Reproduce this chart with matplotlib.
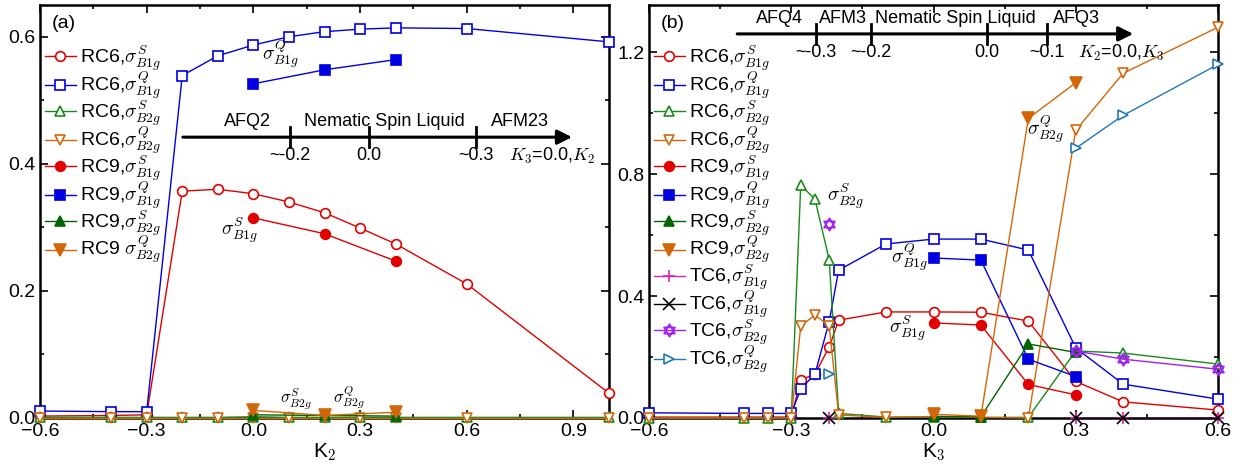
import numpy as np
import matplotlib
matplotlib.use('Agg')
import matplotlib.pyplot as plt
from matplotlib.path import Path
from matplotlib.ticker import MultipleLocator

plt.rcParams['font.family'] = ['Liberation Sans', 'DejaVu Sans']
plt.rcParams['mathtext.fontset'] = 'cm'
plt.rcParams['font.size'] = 13

# ---- panel (a): K3 = 0, scan K2 ----
k2_rc6 = [-0.6, -0.4, -0.3, -0.2, -0.1, 0.0, 0.1, 0.2, 0.3, 0.4, 0.6, 1.0]
a_rc6_b1g_s = [0.003, 0.004, 0.005, 0.357, 0.360, 0.353, 0.340, 0.323, 0.299, 0.274, 0.211, 0.039]
a_rc6_b1g_q = [0.011, 0.010, 0.010, 0.539, 0.570, 0.587, 0.600, 0.608, 0.612, 0.614, 0.613, 0.592]
a_rc6_b2g_s = [0.001, 0.001, 0.001, 0.001, 0.001, 0.002, 0.001, 0.001, 0.001, 0.001, 0.001, 0.001]
a_rc6_b2g_q = [0.000, 0.000, 0.000, 0.000, 0.000, 0.000, 0.000, 0.000, 0.000, 0.000, 0.000, 0.000]
k2_rc9 = [0.0, 0.2, 0.4]
a_rc9_b1g_s = [0.315, 0.290, 0.247]
a_rc9_b1g_q = [0.526, 0.548, 0.564]
a_rc9_b2g_s = [0.005, 0.004, 0.003]
a_rc9_b2g_q = [0.012, 0.004, 0.009]

# ---- panel (b): K2 = 0, scan K3 ----
k3_rc6 = [-0.6, -0.4, -0.35, -0.3, -0.28, -0.25, -0.22, -0.2, -0.1, 0.0, 0.1, 0.2, 0.3, 0.4, 0.6]
b_rc6_b1g_s = [0.003, 0.003, 0.003, 0.003, 0.125, 0.144, 0.233, 0.321, 0.348, 0.348, 0.347, 0.318, 0.120, 0.053, 0.026]
b_rc6_b1g_q = [0.017, 0.015, 0.015, 0.015, 0.095, 0.144, 0.316, 0.485, 0.571, 0.587, 0.587, 0.551, 0.230, 0.111, 0.062]
b_rc6_b2g_s = [0.0, 0.0, 0.0, 0.0, 0.764, 0.718, 0.520, 0.015, 0.003, 0.003, 0.002, 0.002, 0.220, 0.213, 0.177]
b_rc6_b2g_q = [0.0, 0.0, 0.0, 0.0, 0.302, 0.338, 0.302, 0.010, 0.002, 0.005, 0.002, 0.0, 0.944, 1.131, 1.282]
k3_rc9 = [0.0, 0.1, 0.2, 0.3]
b_rc9_b1g_s = [0.312, 0.305, 0.110, 0.076]
b_rc9_b1g_q = [0.525, 0.518, 0.193, 0.136]
b_rc9_b2g_s = [0.005, 0.004, 0.243, 0.215]
b_rc9_b2g_q = [0.012, 0.006, 0.983, 1.100]
k3_tc6 = [-0.22, 0.3, 0.4, 0.6]
b_tc6_b1g_s = [0.0, 0.0, 0.0, 0.0]
b_tc6_b1g_q = [0.0, 0.0, 0.0, 0.0]
b_tc6_b2g_s = [0.636, 0.220, 0.193, 0.160]
b_tc6_b2g_q = [0.144, 0.885, 0.993, 1.160]

RED = '#e00000'
BLUE = '#0000e0'
GREEN = '#1a8a1a'
DGREEN = '#006400'
ORANGE = '#d2670a'
MAGENTA = '#e020b0'
PURPLE = '#a020f0'
TEAL = '#1f78b4'

# star of david marker
up = Path([(0, 1), (-0.866, -0.5), (0.866, -0.5), (0, 1)], closed=True)
dn = Path([(0, -1), (-0.866, 0.5), (0.866, 0.5), (0, -1)], closed=True)
hexagram = Path.make_compound_path(up, dn)

S_B1G = r'$\sigma^{S}_{B1g}$'
Q_B1G = r'$\sigma^{Q}_{B1g}$'
S_B2G = r'$\sigma^{S}_{B2g}$'
Q_B2G = r'$\sigma^{Q}_{B2g}$'


def draw(ax, x, y, color, marker, label, filled=False, ms=7, line_from=0):
    kw = dict(color=color, marker=marker, ms=ms, lw=1.0, mew=1.2, clip_on=False, zorder=3)
    if not filled:
        kw['mfc'] = 'white' if marker not in ('+', 'x') else color
    if line_from:
        ax.plot(x[:line_from], y[:line_from], ls='none', **kw)
    ax.plot(x[line_from:], y[line_from:], label=label, **kw)


def style_axes(ax):
    ax.tick_params(which='both', direction='in', top=True, right=True, width=1.2)
    ax.tick_params(which='major', length=6, labelsize=14)
    ax.tick_params(which='minor', length=3)
    for s in ax.spines.values():
        s.set_linewidth(1.8)


def phase_bar(ax, x0, x1, y, ticks, tick_labels, regions, region_x, axis_label, axis_label_x):
    ax.annotate('', xy=(x1, y), xytext=(x0, y), xycoords='axes fraction',
                arrowprops=dict(arrowstyle='-|>', lw=2.2, color='k', mutation_scale=22,
                                shrinkA=0, shrinkB=0))
    for t, lab in zip(ticks, tick_labels):
        ax.plot([t, t], [y - 0.025, y + 0.025], color='k', lw=2, transform=ax.transAxes)
        ax.text(t, y - 0.045, lab, transform=ax.transAxes, ha='center', va='center', fontsize=13)
    for r, rx in zip(regions, region_x):
        ax.text(rx, y + 0.037, r, transform=ax.transAxes, ha='center', va='center', fontsize=13)
    ax.text(axis_label_x, y - 0.045, axis_label, transform=ax.transAxes, ha='center',
            va='center', fontsize=13)


fig = plt.figure(figsize=(12.42, 4.68), dpi=100)
ax_a = fig.add_axes([40 / 1242, 50 / 468, 569 / 1242, 413 / 468])
ax_b = fig.add_axes([649 / 1242, 50 / 468, 569 / 1242, 413 / 468])

legend_kw = dict(loc='upper left', bbox_to_anchor=(-0.005, 0.925), frameon=False, fontsize=14,
                 handlelength=1.6, handletextpad=0.2, labelspacing=-0.17, borderaxespad=0)

# panel (a)
draw(ax_a, k2_rc6, a_rc6_b1g_s, RED, 'o', 'RC6,' + S_B1G)
draw(ax_a, k2_rc6, a_rc6_b1g_q, BLUE, 's', 'RC6,' + Q_B1G)
draw(ax_a, k2_rc6, a_rc6_b2g_s, GREEN, '^', 'RC6,' + S_B2G)
draw(ax_a, k2_rc6, a_rc6_b2g_q, ORANGE, 'v', 'RC6,' + Q_B2G)
draw(ax_a, k2_rc9, a_rc9_b1g_s, RED, 'o', 'RC9,' + S_B1G, filled=True)
draw(ax_a, k2_rc9, a_rc9_b1g_q, BLUE, 's', 'RC9,' + Q_B1G, filled=True)
draw(ax_a, k2_rc9, a_rc9_b2g_s, DGREEN, '^', 'RC9,' + S_B2G, filled=True)
draw(ax_a, k2_rc9, a_rc9_b2g_q, ORANGE, 'v', 'RC9 ' + Q_B2G, filled=True, ms=9)

ax_a.set_xlim(-0.6, 1.0)
ax_a.set_ylim(0, 0.65)
ax_a.xaxis.set_major_locator(MultipleLocator(0.3))
ax_a.xaxis.set_minor_locator(MultipleLocator(0.15))
ax_a.yaxis.set_major_locator(MultipleLocator(0.2))
ax_a.yaxis.set_minor_locator(MultipleLocator(0.1))
ax_a.set_xlabel('K$_\\mathsf{2}$', fontsize=15, labelpad=1)
style_axes(ax_a)
ax_a.text(0.02, 0.955, '(a)', transform=ax_a.transAxes, fontsize=14, va='center')
ax_a.legend(**legend_kw)
ax_a.text(0.077, 0.572, Q_B1G, fontsize=14, ha='center', va='center')
ax_a.text(-0.04, 0.296, S_B1G, fontsize=14, ha='center', va='center')
ax_a.text(0.12, 0.03, S_B2G, fontsize=12, ha='center', va='center')
ax_a.text(0.27, 0.032, Q_B2G, fontsize=12, ha='center', va='center')
phase_bar(ax_a, 0.251, 0.935, 0.680, [0.439, 0.578, 0.766], ['~-0.2', '0.0', '~0.3'],
          ['AFQ2', 'Nematic Spin Liquid', 'AFM23'], [0.364, 0.605, 0.844],
          r'$K_3$=0.0,$K_2$', 0.90)

# panel (b)
draw(ax_b, k3_rc6, b_rc6_b1g_s, RED, 'o', 'RC6,' + S_B1G)
draw(ax_b, k3_rc6, b_rc6_b1g_q, BLUE, 's', 'RC6,' + Q_B1G)
draw(ax_b, k3_rc6, b_rc6_b2g_s, GREEN, '^', 'RC6,' + S_B2G)
draw(ax_b, k3_rc6, b_rc6_b2g_q, ORANGE, 'v', 'RC6,' + Q_B2G)
draw(ax_b, k3_rc9, b_rc9_b1g_s, RED, 'o', 'RC9,' + S_B1G, filled=True)
draw(ax_b, k3_rc9, b_rc9_b1g_q, BLUE, 's', 'RC9,' + Q_B1G, filled=True)
draw(ax_b, k3_rc9, b_rc9_b2g_s, DGREEN, '^', 'RC9,' + S_B2G, filled=True)
draw(ax_b, k3_rc9, b_rc9_b2g_q, ORANGE, 'v', 'RC9,' + Q_B2G, filled=True, ms=9)
draw(ax_b, k3_tc6, b_tc6_b1g_s, MAGENTA, '+', 'TC6,' + S_B1G, ms=9, line_from=1)
draw(ax_b, k3_tc6, b_tc6_b1g_q, 'black', 'x', 'TC6,' + Q_B1G, ms=8, line_from=1)
draw(ax_b, k3_tc6, b_tc6_b2g_s, PURPLE, hexagram, 'TC6,' + S_B2G, ms=9, line_from=1)
draw(ax_b, k3_tc6, b_tc6_b2g_q, TEAL, '>', 'TC6,' + Q_B2G, line_from=1)

ax_b.set_xlim(-0.6, 0.6)
ax_b.set_ylim(0, 1.355)
ax_b.xaxis.set_major_locator(MultipleLocator(0.3))
ax_b.xaxis.set_minor_locator(MultipleLocator(0.15))
ax_b.yaxis.set_major_locator(MultipleLocator(0.4))
ax_b.yaxis.set_minor_locator(MultipleLocator(0.2))
ax_b.set_xlabel('K$_\\mathsf{3}$', fontsize=15, labelpad=1)
style_axes(ax_b)
ax_b.text(0.02, 0.955, '(b)', transform=ax_b.transAxes, fontsize=14, va='center')
ax_b.legend(**legend_kw)
ax_b.text(-0.185, 0.728, S_B2G, fontsize=14, ha='center', va='center')
ax_b.text(-0.05, 0.525, Q_B1G, fontsize=14, ha='center', va='center')
ax_b.text(-0.055, 0.295, S_B1G, fontsize=14, ha='center', va='center')
ax_b.text(0.235, 0.944, Q_B2G, fontsize=14, ha='center', va='center')
phase_bar(ax_b, 0.155, 0.851, 0.930, [0.293, 0.390, 0.594, 0.699],
          ['~-0.3', '~-0.2', '0.0', '~0.1'],
          ['AFQ4', 'AFM3', 'Nematic Spin Liquid', 'AFQ3'], [0.229, 0.341, 0.538, 0.752],
          r'$K_2$=0.0,$K_3$', 0.83)

fig.savefig('out.png', dpi=100)
